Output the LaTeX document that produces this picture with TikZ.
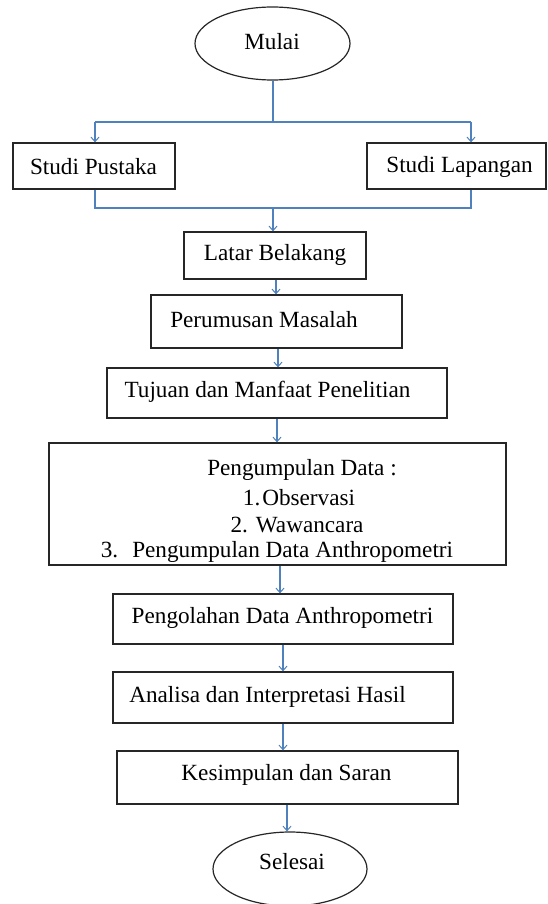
\documentclass[tikz,border=0pt]{standalone}
\usepackage{fontspec}
\setmainfont{Liberation Serif}
\usetikzlibrary{shapes.geometric,arrows.meta}
\definecolor{lineblue}{HTML}{4F81BD}
\tikzset{
  box/.style={draw=black!85,line width=1.3pt,rectangle,inner sep=0pt},
  oval/.style={draw=black!85,line width=1.2pt,ellipse,inner sep=0pt},
  txt/.style={inner sep=0pt,font=\fontsize{23.2}{27}\selectfont},
  conn/.style={draw=lineblue,line width=1.3pt},
  arr/.style={conn,-{Straight Barb[length=4.5pt,width=8pt,line width=1pt]}}
}
\begin{document}
\begin{tikzpicture}[x=1pt,y=-1pt]
\useasboundingbox (0,0) rectangle (548,904);
% shapes
\node[oval,minimum width=155pt,minimum height=73pt] (mulai) at (272.5,43.5) {};
\node[box,minimum width=162pt,minimum height=46pt] (sp) at (94,166) {};
\node[box,minimum width=179pt,minimum height=46pt] (sl) at (456.5,166) {};
\node[box,minimum width=182pt,minimum height=47pt] (lb) at (275,255.5) {};
\node[box,minimum width=251pt,minimum height=53pt] (pm) at (276.5,321.5) {};
\node[box,minimum width=340pt,minimum height=50pt] (tm) at (277,393) {};
\node[box,minimum width=457pt,minimum height=122pt] (pd) at (277.5,504) {};
\node[box,minimum width=340pt,minimum height=50pt] (po) at (283,619) {};
\node[box,minimum width=340pt,minimum height=51pt] (ai) at (283,697.5) {};
\node[box,minimum width=341pt,minimum height=53pt] (ks) at (287.5,777.5) {};
\node[oval,minimum width=154pt,minimum height=74pt] (selesai) at (290,869) {};
% texts
\node[txt] (tmulai) at (272,42) {Mulai};
\node[txt] (tsp) at (93.5,167) {Studi Pustaka};
\node[txt] (tsl) at (459.5,167) {Studi Lapangan};
\node[txt] (tlb) at (275,255) {Latar Belakang};
\node[txt] (tpm) at (264,320) {Perumusan Masalah};
\node[txt] (ttm) at (267.5,392) {Tujuan dan Manfaat Penelitian};
\node[txt] (tpd1) at (302,470) {Pengumpulan Data :};
\node[txt] (tpd2) at (299,498) {1.\hspace{2pt}Observasi};
\node[txt] (tpd3) at (297,525) {2.\hspace{8pt}Wawancara};
\node[txt] (tpd4) at (277,552) {3.\hspace{14pt}Pengumpulan Data Anthropometri};
\node[txt] (tpo) at (282.5,618) {Pengolahan Data Anthropometri};
\node[txt] (tai) at (267.5,697) {Analisa dan Interpretasi Hasil};
\node[txt] (tks) at (286.5,775) {Kesimpulan dan Saran};
\node[txt] (tsel) at (292,862) {Selesai};
% junctions
\coordinate (jt) at (273,122);
\coordinate (jl) at (95,122);
\coordinate (jr) at (471,122);
\coordinate (bl) at (95,208);
\coordinate (br) at (471,208);
\coordinate (bm) at (273,208);
% connectors
\draw[conn] (mulai.south -| jt) -- (jt);
\draw[conn] (jl) -- (jr);
\draw[arr] (jl) -- (jl |- sp.north);
\draw[arr] (jr) -- (jr |- sl.north);
\draw[conn] (bl |- sp.south) -- (bl) -- (br) -- (br |- sl.south);
\draw[arr] (bm) -- (bm |- lb.north);
\coordinate (c1) at (276,0);
\draw[arr] (c1 |- lb.south) -- (c1 |- pm.north);
\coordinate (c2) at (278,0);
\draw[arr] (c2 |- pm.south) -- (c2 |- tm.north);
\coordinate (c3) at (277,0);
\draw[arr] (c3 |- tm.south) -- (c3 |- pd.north);
\coordinate (c4) at (280,0);
\draw[arr] (c4 |- pd.south) -- (c4 |- po.north);
\coordinate (c5) at (283,0);
\draw[arr] (c5 |- po.south) -- (c5 |- ai.north);
\draw[arr] (c5 |- ai.south) -- (c5 |- ks.north);
\coordinate (c6) at (287,0);
\draw[arr] (c6 |- ks.south) -- (c6 |- selesai.north);
\end{tikzpicture}
\end{document}
